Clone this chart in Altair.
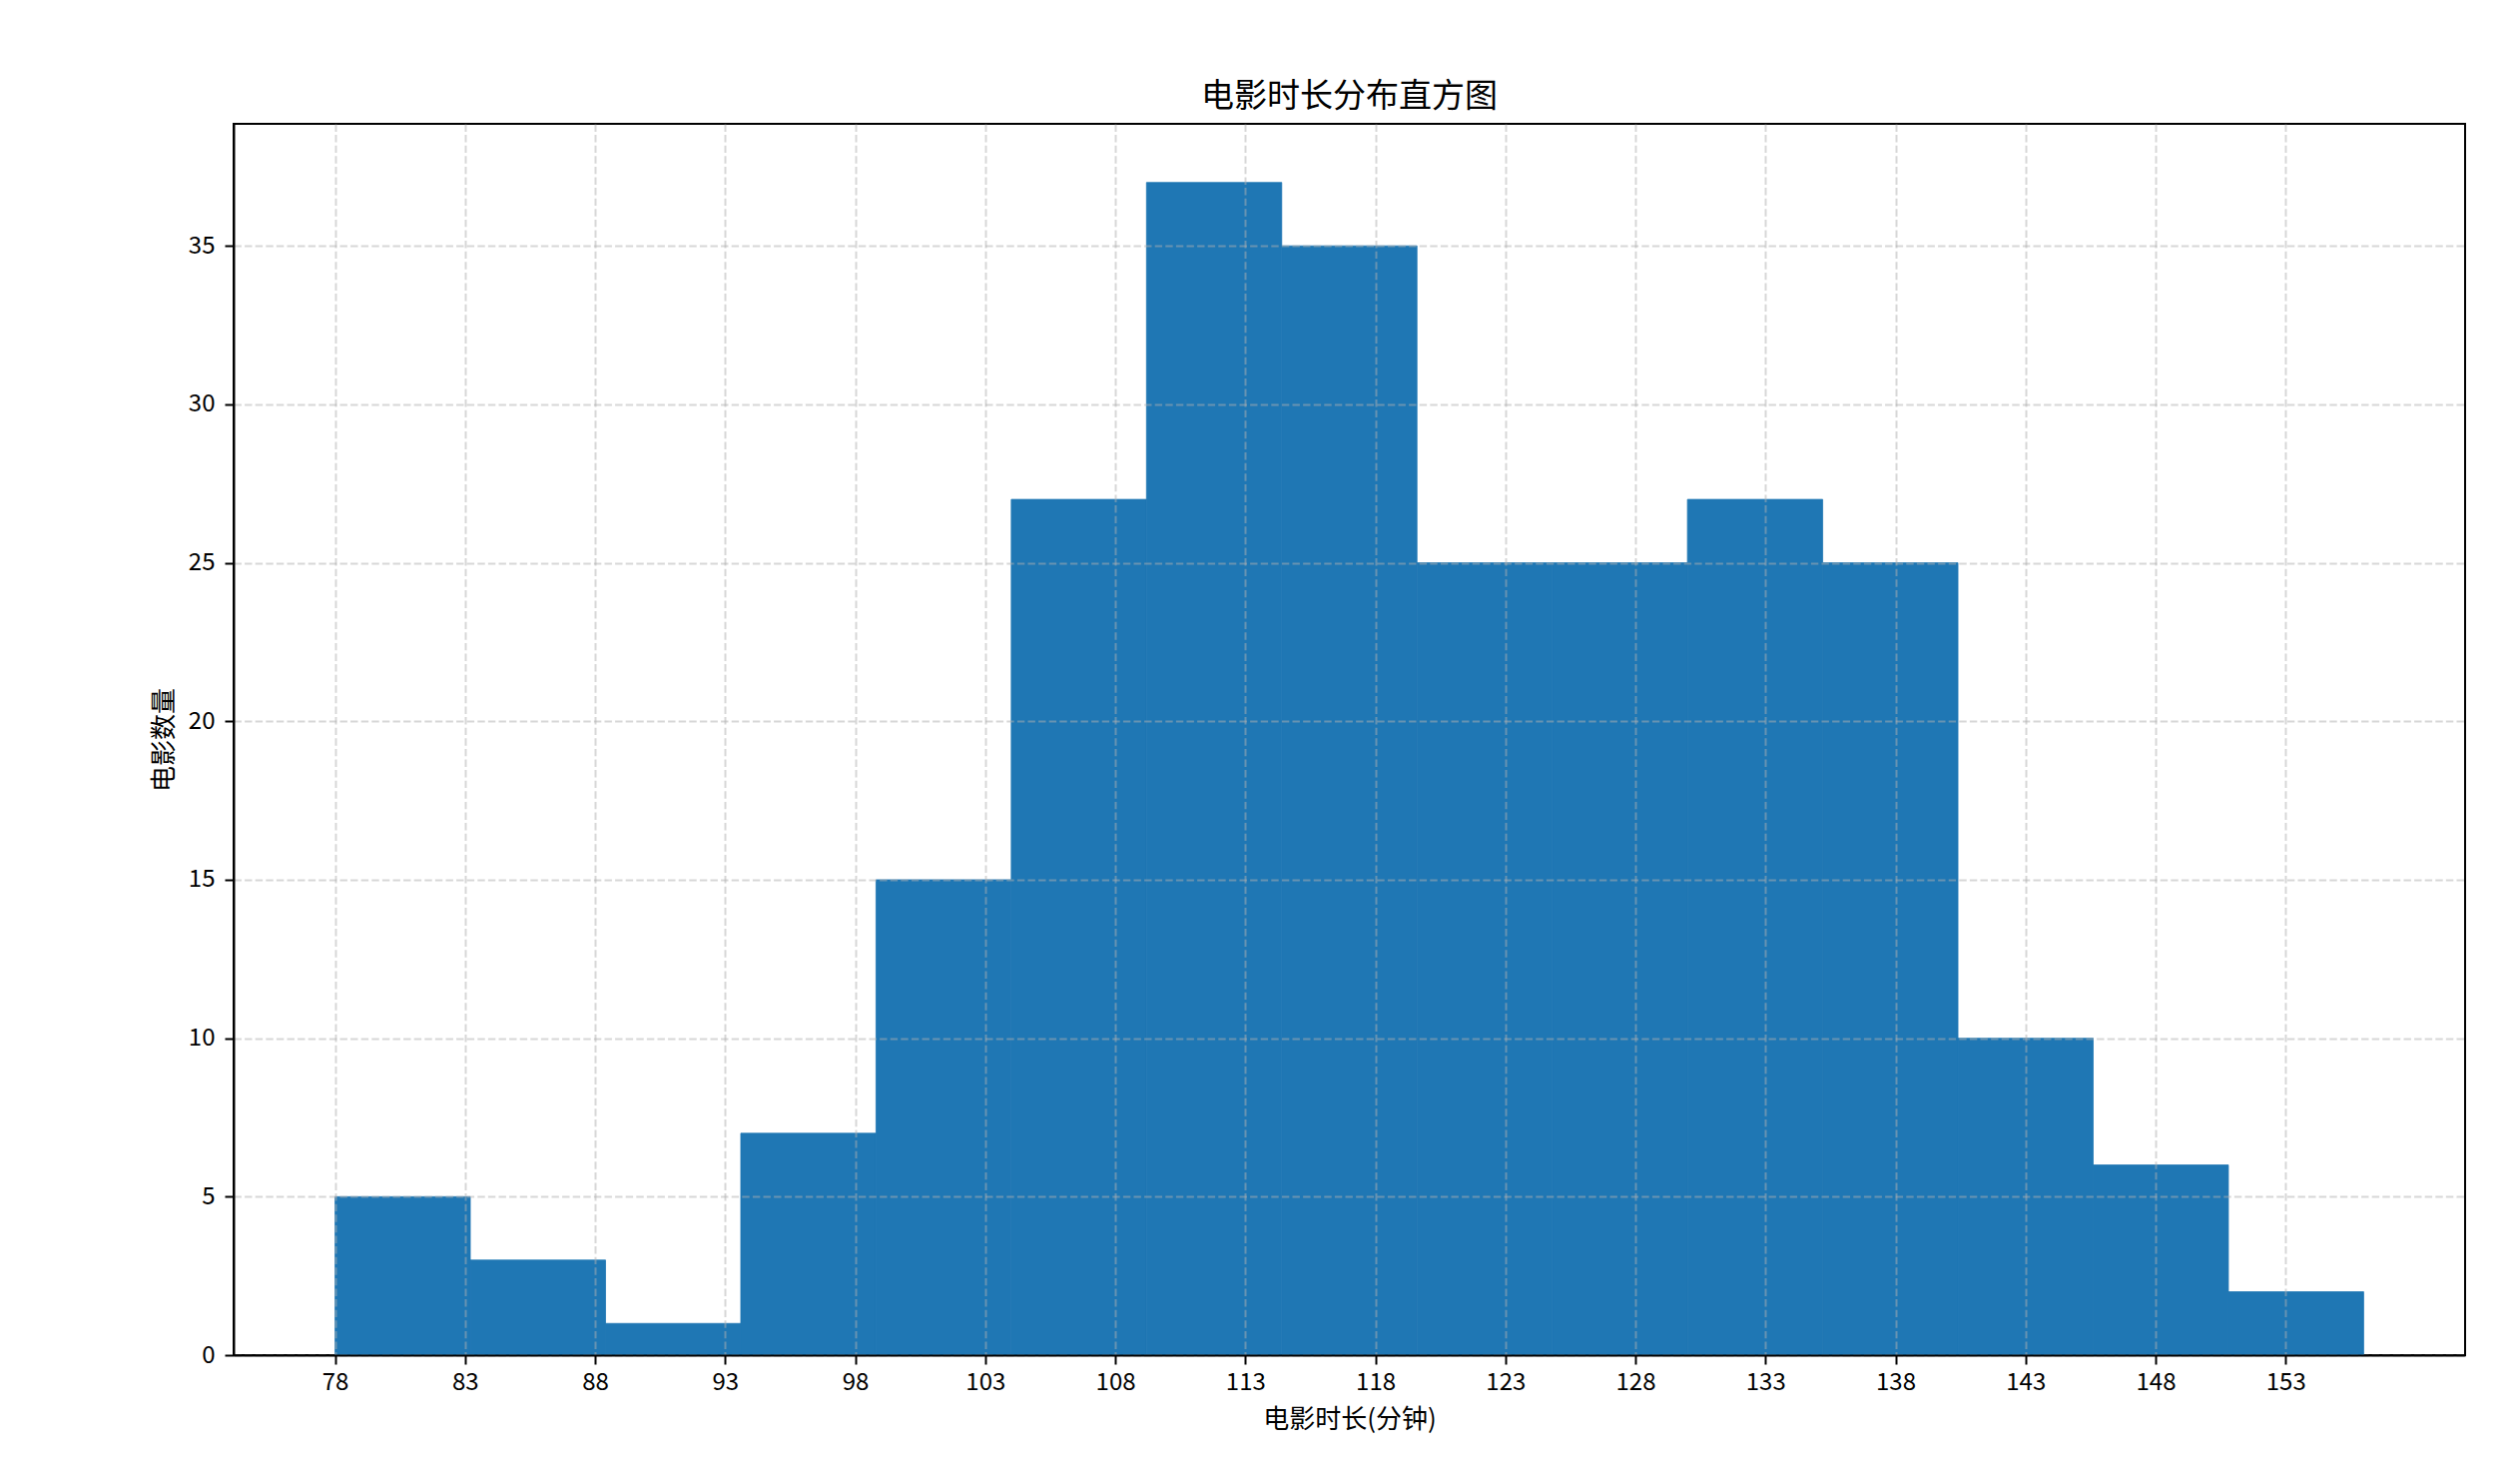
import altair as alt
import pandas as pd

# Histogram data
bin_start = [78.0, 83.2, 88.4, 93.6, 98.8, 104.0, 109.2, 114.4, 119.6, 124.8, 130.0, 135.2, 140.4, 145.6, 150.8]
bin_end = [83.2, 88.4, 93.6, 98.8, 104.0, 109.2, 114.4, 119.6, 124.8, 130.0, 135.2, 140.4, 145.6, 150.8, 156.0]
counts = [5, 3, 1, 7, 15, 27, 37, 35, 25, 25, 27, 25, 10, 6, 2]
x_ticks = [78, 83, 88, 93, 98, 103, 108, 113, 118, 123, 128, 133, 138, 143, 148, 153]
y_ticks = [0, 5, 10, 15, 20, 25, 30, 35]

df = pd.DataFrame({"start": bin_start, "end": bin_end, "count": counts})

FONT = "Noto Sans CJK SC"

axis_common = dict(
    grid=True,
    gridColor="#b0b0b0",
    gridOpacity=0.5,
    gridDash=[7.4, 3.2],
    gridWidth=2,
    domainColor="black",
    domainWidth=2,
    tickColor="black",
    tickWidth=2,
    tickSize=9,
    labelFont=FONT,
    labelFontSize=24,
    labelColor="black",
    titleFont=FONT,
    titleFontSize=26,
    titleFontWeight="normal",
    titleColor="black",
    zindex=1,
)

chart = (
    alt.Chart(df)
    .mark_rect(color="#1f77b4", stroke="#1f77b4", strokeWidth=0.8)
    .encode(
        x=alt.X(
            "start:Q",
            scale=alt.Scale(domain=[74.1, 159.9], nice=False, zero=False),
            axis=alt.Axis(
                values=x_ticks,
                title="电影时长(分钟)",
                labelPadding=6,
                titlePadding=12,
                labelFlush=False,
                **axis_common,
            ),
        ),
        x2="end:Q",
        y=alt.Y(
            "count:Q",
            scale=alt.Scale(domain=[0, 38.85], nice=False),
            axis=alt.Axis(
                values=y_ticks,
                title="电影数量",
                labelPadding=10,
                titlePadding=11,
                labelFlush=False,
                **axis_common,
            ),
        ),
        y2=alt.datum(0),
    )
    .properties(
        width=2235,
        height=1233,
        autosize=alt.AutoSizeParams(type="none"),
        padding={"left": 226, "top": 116, "right": 47, "bottom": 99},
        title=alt.TitleParams(
            "电影时长分布直方图",
            font=FONT,
            fontSize=33,
            fontWeight="normal",
            color="black",
            anchor="middle",
            offset=10,
        ),
    )
    .configure_view(stroke="black", strokeWidth=2)
)

chart.save("out.html", embed_options={"renderer": "svg", "actions": False})
